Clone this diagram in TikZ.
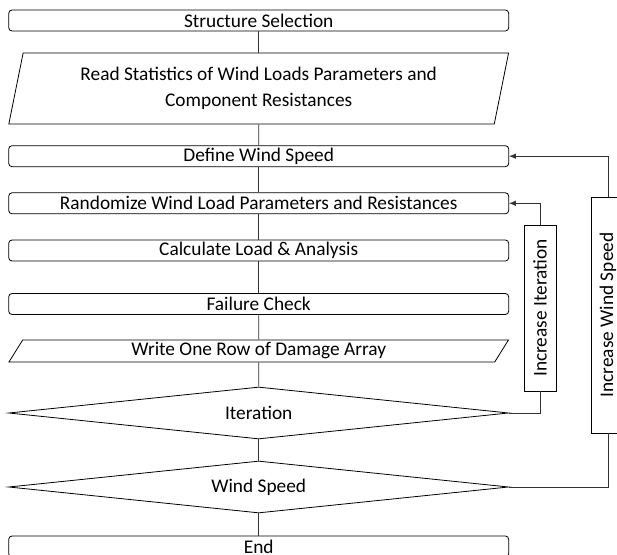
\documentclass[tikz,border=0pt]{standalone}
\usepackage{fontspec}
\setmainfont{Carlito}
\usetikzlibrary{shapes.geometric,arrows.meta}

\tikzset{
  stepbox/.style={draw, rounded corners=2.5pt, line width=0.6pt, minimum width=375pt, minimum height=15.75pt, inner sep=0pt},
  iobox/.style={draw, trapezium, trapezium stretches=true, line width=0.6pt, minimum width=375pt, inner sep=0pt},
  decide/.style={draw, diamond, aspect=9.6, line width=0.6pt, minimum width=375pt, minimum height=39pt, inner sep=0pt},
  loopbox/.style={draw, rectangle, line width=0.6pt, inner sep=0pt},
  link/.style={line width=0.45pt, draw=black!80},
}

\begin{document}
\begin{tikzpicture}[x=0.75pt, y=-0.75pt, font=\fontsize{14.5}{17}\selectfont]
  \useasboundingbox (0,0) rectangle (617,555);

  \node[stepbox] (sel) at (258.7, 20.5) {Structure Selection};
  \node[iobox, minimum height=53.25pt, trapezium left angle=75.5, trapezium right angle=104.5, align=center] (read) at (258.7, 88.5)
    {Read Statistics of Wind Loads Parameters and\\[2pt] Component Resistances};
  \node[stepbox] (def) at (258.7, 156.2) {Define Wind Speed};
  \node[stepbox] (rand) at (258.7, 203.3) {Randomize Wind Load Parameters and Resistances};
  \node[stepbox] (calc) at (258.7, 250.5) {Calculate Load \& Analysis};
  \node[stepbox] (fail) at (258.7, 304) {Failure Check};
  \node[iobox, minimum height=16.5pt, trapezium left angle=66, trapezium right angle=114] (write) at (258.7, 351) {Write One Row of Damage Array};
  \node[decide] (iter) at (258.7, 413) {Iteration};
  \node[decide] (wind) at (258.7, 487) {Wind Speed};
  \node[stepbox] (end) at (258.7, 546.5) {End};

  % loop boxes
  \node[loopbox, minimum width=24pt, minimum height=124.5pt] (incit) at (540, 308) {};
  \node[rotate=90] at (incit) {Increase Iteration};
  \node[loopbox, minimum width=25.5pt, minimum height=177pt] (incws) at (608, 315) {};
  \node[rotate=90] at (incws) {Increase Wind Speed};

  % main chain
  \draw[link] (sel) -- (read);
  \draw[link] (read) -- (def);
  \draw[link] (def) -- (rand);
  \draw[link] (rand) -- (calc);
  \draw[link] (calc) -- (fail);
  \draw[link] (fail) -- (write);
  \draw[link] (write) -- (iter);
  \draw[link] (iter) -- (wind);
  \draw[link] (wind) -- (end);

  % loops back
  \draw[link] (iter.east) -| (incit.south);
  \draw[link, -{Latex[length=5pt, width=4pt]}] (incit.north) |- (rand.east);
  \draw[link] (wind.east) -| (incws.south);
  \draw[link, -{Latex[length=5pt, width=4pt]}] (incws.north) |- (def.east);
\end{tikzpicture}
\end{document}
